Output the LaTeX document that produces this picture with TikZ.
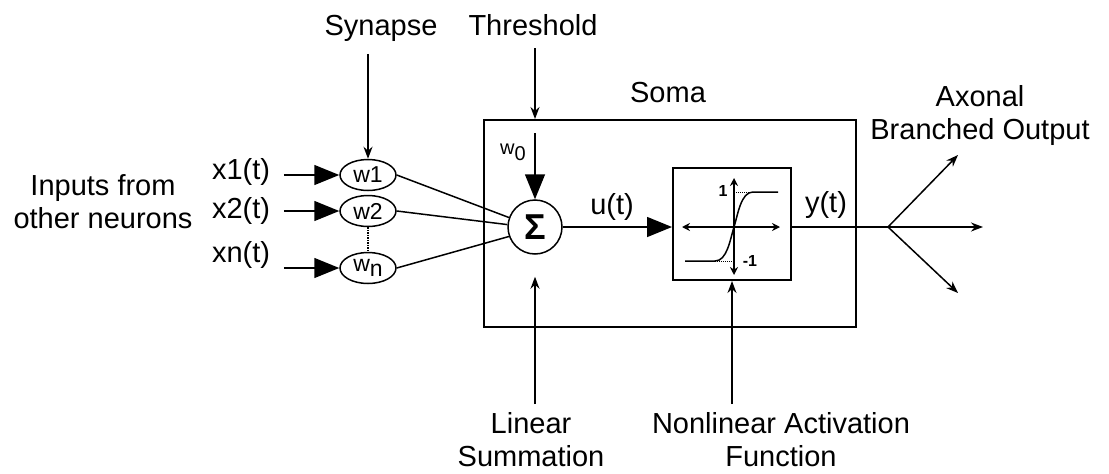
\documentclass[tikz,border=0pt]{standalone}
\usepackage{fontspec}
\setmainfont{Liberation Sans}
\usetikzlibrary{arrows.meta,shapes.geometric}

\tikzset{
  lbl/.style={font=\fontsize{29}{33}\selectfont, align=center, inner sep=0pt},
  weight/.style={draw, ellipse, minimum width=56pt, minimum height=31pt, inner sep=0pt, font=\fontsize{23}{23}\selectfont},
  sumnode/.style={draw, circle, minimum size=54pt, inner sep=0pt, font=\fontsize{36}{36}\selectfont\bfseries},
  box/.style={draw, line width=2pt, inner sep=0pt},
  bigtip/.style={-{Triangle[length=25pt,width=20pt]}},
  small/.style={font=\fontsize{16}{16}\selectfont\bfseries, inner sep=0pt}
}

\begin{document}
\begin{tikzpicture}[x=1pt,y=-1pt,line width=1.5pt,>={Stealth[length=12pt,width=9pt]}]
\fill[white] (0,0) rectangle (1109,474);
\useasboundingbox (0,0) rectangle (1109,474);

\node[lbl,anchor=north] (inputs) at (103,174) {Inputs from\\other neurons};
\node[lbl,anchor=base] (x1) at (241,179) {x1(t)};
\node[lbl,anchor=base] (x2) at (241,218) {x2(t)};
\node[lbl,anchor=base] (xn) at (241,262) {xn(t)};

\node[weight] (w1) at (368,175) {w1};
\node[weight] (w2) at (368,211) {w2};
\node[weight] (wn) at (368,268) {w\raisebox{-5pt}{n}};

\node[lbl,anchor=base] (synapse) at (381,35) {Synapse};
\node[lbl,anchor=base] (threshold) at (533,35) {Threshold};
\node[lbl,anchor=base] (somalbl) at (668,102) {Soma};
\node[lbl,anchor=north] (axonal) at (980,85) {Axonal\\Branched Output};

\node[box,minimum width=372pt,minimum height=207pt] (soma) at (670,223.5) {};
\node[sumnode] (sum) at (535,227) {Σ};
\node[font=\fontsize{20}{20}\selectfont,inner sep=0pt] (w0) at (513,152) {w\raisebox{-6pt}{0}};
\node[box,minimum width=118pt,minimum height=112pt] (act) at (732,224) {};
\coordinate (org) at (734,227);

\node[lbl,anchor=base] (ulbl) at (612,214) {u(t)};
\node[lbl,anchor=base] (ylbl) at (826,212) {y(t)};

\node[lbl,anchor=north] (linear) at (531,412) {Linear\\Summation};
\node[lbl,anchor=north] (nonlin) at (781,412) {Nonlinear Activation\\Function};

\coordinate (branch) at (888,227);
\coordinate (outup) at (958,155);
\coordinate (outmid) at (983,227);
\coordinate (outdn) at (958,293);

\draw[bigtip,shorten <=13pt] (x1.east |- w1.west) -- (w1.west);
\draw[bigtip,shorten <=13pt] (x2.east |- w2.west) -- (w2.west);
\draw[bigtip,shorten <=13pt] (xn.east |- wn.west) -- (wn.west);
\draw[densely dotted] (w2.south) -- (wn.north);

\draw (w1.east) -- (sum.160);
\draw (w2.east) -- (sum.175);
\draw (wn.east) -- (sum.200);

\draw[->,shorten <=12pt] (synapse.south -| w1.north) -- (w1.north);
\draw[->,shorten <=12pt] (threshold.south -| sum.north) -- (sum.north |- soma.north);
\draw[bigtip,shorten <=14pt] (sum.north |- soma.north) -- (sum.north);

\draw[bigtip] (sum.east) -- (sum.east -| act.west);

\begin{scope}[shift={(org)}]
\draw[<->,>={Stealth[length=8pt,width=8pt]}] (-52,0) -- (46,0);
\draw[<->,>={Stealth[length=8pt,width=8pt]}] (0,-49) -- (0,48);
\draw (-49,34) -- (-19,34) .. controls (-7,34) and (-4,13) .. (0,0)
      .. controls (4,-13) and (7,-35) .. (19,-35) -- (44,-35);
\draw[densely dotted,line width=1pt] (-19,34) -- (0,34);
\draw[densely dotted,line width=1pt] (0,-35) -- (19,-35);
\node[small] (one) at (-11,-36) {1};
\node[small] (mone) at (16,34) {-1};
\end{scope}

\draw (act.east |- org) -- (branch);
\draw[->] (branch) -- (outup);
\draw[->] (branch) -- (outmid);
\draw[->] (branch) -- (outdn);

\draw[->,shorten <=8pt,shorten >=22pt] (linear.north -| sum.south) -- (sum.south);
\draw[->,shorten <=8pt] (nonlin.north -| act.south) -- (act.south);
\end{tikzpicture}
\end{document}
